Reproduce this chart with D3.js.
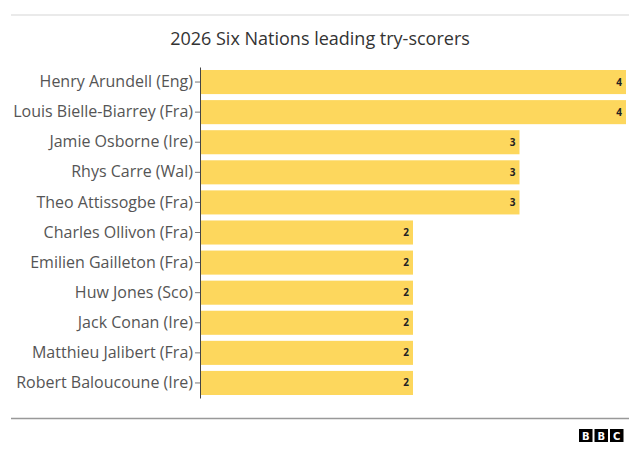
<!DOCTYPE html>
<html>
<head>
<meta charset="utf-8">
<script src="https://cdn.jsdelivr.net/npm/d3@7"></script>
<style>
  html, body { margin: 0; padding: 0; background: #fff; }
  svg { display: block; }
</style>
</head>
<body>
<svg id="chart" width="640" height="463"></svg>
<script>
const title = "2026 Six Nations leading try-scorers";
const players = [
  "Henry Arundell (Eng)",
  "Louis Bielle-Biarrey (Fra)",
  "Jamie Osborne (Ire)",
  "Rhys Carre (Wal)",
  "Theo Attissogbe (Fra)",
  "Charles Ollivon (Fra)",
  "Emilien Gailleton (Fra)",
  "Huw Jones (Sco)",
  "Jack Conan (Ire)",
  "Matthieu Jalibert (Fra)",
  "Robert Baloucoune (Ire)"
];
const tries = [4, 4, 3, 3, 3, 2, 2, 2, 2, 2, 2];
const logoLetters = ["B", "B", "C"];

const svg = d3.select("#chart");
const FONT = "'Open Sans', sans-serif";

// top rule
svg.append("line")
  .attr("x1", 11).attr("x2", 629).attr("y1", 15).attr("y2", 15)
  .attr("stroke", "#e3e3e3").attr("stroke-width", 1.5);

// title
svg.append("text")
  .attr("x", 320).attr("y", 45)
  .attr("text-anchor", "middle")
  .attr("font-family", FONT)
  .attr("font-size", 18)
  .attr("fill", "#333")
  .text(title);

const x = d3.scaleLinear().domain([0, 4]).range([200, 626]);
const y = d3.scaleBand().domain(players).range([67, 398])
  .paddingInner(0.2).paddingOuter(0.1);

// bars
svg.append("g").selectAll("rect")
  .data(players)
  .join("rect")
  .attr("x", x(0))
  .attr("y", d => y(d))
  .attr("width", (d, i) => x(tries[i]) - x(0))
  .attr("height", y.bandwidth())
  .attr("fill", "#fdd75d");

// value labels
svg.append("g").selectAll("text")
  .data(players)
  .join("text")
  .attr("x", (d, i) => x(tries[i]) - 4)
  .attr("y", d => y(d) + y.bandwidth() / 2)
  .attr("dy", "0.35em")
  .attr("text-anchor", "end")
  .attr("font-family", FONT)
  .attr("font-size", 10)
  .attr("font-weight", "bold")
  .attr("fill", "#222")
  .text((d, i) => tries[i]);

// y axis
const yAxis = svg.append("g")
  .attr("transform", `translate(${x(0)},0)`)
  .call(d3.axisLeft(y).tickSize(5).tickPadding(2).tickSizeOuter(0));
yAxis.select(".domain").attr("stroke", "#444");
yAxis.selectAll(".tick line").attr("stroke", "#777");
yAxis.selectAll(".tick text")
  .attr("font-family", FONT)
  .attr("font-size", 16)
  .attr("fill", "#555");

// bottom rule
svg.append("line")
  .attr("x1", 11).attr("x2", 629).attr("y1", 418.5).attr("y2", 418.5)
  .attr("stroke", "#999").attr("stroke-width", 1.5);

// BBC logo
const logo = svg.append("g").attr("transform", "translate(579,429)");
logo.selectAll("rect")
  .data(logoLetters)
  .join("rect")
  .attr("x", (d, i) => i * 15.5)
  .attr("y", 0)
  .attr("width", 13.5).attr("height", 13)
  .attr("fill", "#000");
logo.selectAll("text")
  .data(logoLetters)
  .join("text")
  .attr("x", (d, i) => i * 15.5 + 6.75)
  .attr("y", 10.5)
  .attr("text-anchor", "middle")
  .attr("font-family", "'DejaVu Sans', sans-serif")
  .attr("font-weight", "bold")
  .attr("font-size", 10)
  .attr("fill", "#fff")
  .text(d => d);
</script>
</body>
</html>
